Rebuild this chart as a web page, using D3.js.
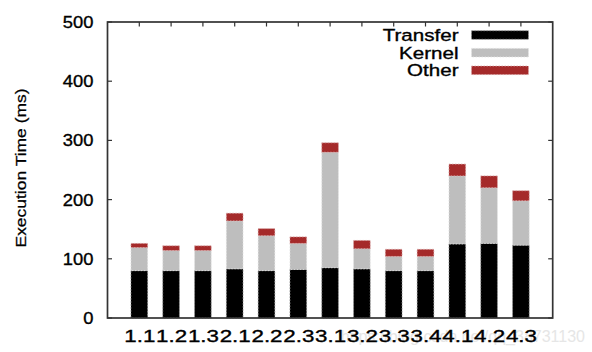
<!DOCTYPE html>
<html><head><meta charset="utf-8">
<script src="https://cdn.jsdelivr.net/npm/d3@7"></script>
<style>body{margin:0;background:#fff}svg{display:block}text{font-family:"Liberation Sans",Arial,sans-serif}
.t{fill:#000;stroke:#000;stroke-width:0.35px}</style>
</head><body>
<svg id="c" width="592" height="352"></svg>
<script>
const categories = ["1.1","1.2","1.3","2.1","2.2","2.3","3.1","3.2","3.3","3.4","4.1","4.2","4.3"];
const transfer = [80, 80, 80, 83, 80, 82, 85, 83, 80, 80, 125, 126, 123];
const kernel   = [39, 34, 34, 81, 59, 44, 195, 34, 24, 24, 115, 94, 75];
const other    = [7, 8, 8, 13, 12, 11, 16, 14, 12, 12, 20, 20, 17];
const seriesNames = ["Transfer","Kernel","Other"];
const seriesColors = ["#000000","#bebebe","#a52a2a"];
const yTicks = [0,100,200,300,400,500];

const svg = d3.select("#c");
const L = 107.5, R = 552.7, T = 22, B = 318;
const x = d3.scaleLinear().domain([-1, categories.length]).range([L, R]);
const y = d3.scaleLinear().domain([0, 500]).range([B, T]);
const step = x(1) - x(0);
const bw = step * 0.525;

// watermark
svg.append("text").attr("x", 585).attr("y", 341.5).attr("text-anchor","end")
  .attr("font-size", 16).attr("fill","#e6e6e6").text("https://blog.csdn.net/qq_38731130");

const rows = categories.map((c,i)=>({cat:c, i, Transfer:transfer[i], Kernel:kernel[i], Other:other[i]}));
const stack = d3.stack().keys(seriesNames)(rows);
const strokes = ["#9a9a9a", "#e4e4e4", "#d8a8a8"];

const g = svg.append("g");
stack.forEach((s, k) => {
  g.selectAll(null).data(s).enter().append("rect")
    .attr("x", d => x(d.data.i) - bw/2)
    .attr("width", bw)
    .attr("y", d => y(d[1]))
    .attr("height", d => y(d[0]) - y(d[1]))
    .attr("fill", seriesColors[k])
    .attr("stroke", strokes[k])
    .attr("stroke-width", 0.8)
    .attr("stroke-dasharray", "1.5,1.5");
});

// frame
const axisCol = "#333";
svg.append("rect").attr("x", L).attr("y", T).attr("width", R-L).attr("height", B-T)
  .attr("fill","none").attr("stroke", axisCol).attr("stroke-width", 1.7);

// y ticks (left and right, inward)
yTicks.forEach(v => {
  svg.append("line").attr("x1", L).attr("x2", L+4.5).attr("y1", y(v)).attr("y2", y(v)).attr("stroke", axisCol).attr("stroke-width",1.2);
  svg.append("line").attr("x1", R).attr("x2", R-4.5).attr("y1", y(v)).attr("y2", y(v)).attr("stroke", axisCol).attr("stroke-width",1.2);
  const tg = svg.append("g").attr("transform", `translate(93.5,${y(v)+6}) scale(1.08,1)`);
  tg.append("text").attr("class","t").attr("text-anchor","end").attr("font-size",17).text(v);
});

// x ticks (top inward) and labels
categories.forEach((c,i) => {
  svg.append("line").attr("x1", x(i)).attr("x2", x(i)).attr("y1", T).attr("y2", T+4.5).attr("stroke", axisCol).attr("stroke-width",1.2);
  const tg = svg.append("g").attr("transform", `translate(${x(i)+0.5},341.7) scale(1.33,1)`);
  tg.append("text").attr("class","t").attr("text-anchor","middle").attr("font-size",16.8).text(c);
});

// y axis title
const yt = svg.append("g").attr("transform", "translate(26,168) rotate(-90) scale(1.18,1)");
yt.append("text").attr("class","t").attr("style","stroke-width:0.25px").attr("text-anchor","middle").attr("font-size",14.8).text("Execution Time (ms)");

// legend
const legY = [35, 52.7, 70.3];
seriesNames.forEach((n,k) => {
  const lg = svg.append("g").attr("transform", `translate(458.5,${legY[k]+6}) scale(1.24,1)`);
  lg.append("text").attr("class","t").attr("text-anchor","end").attr("font-size",16.6).text(n);
  svg.append("rect").attr("x", 471.5).attr("y", legY[k]-4.3).attr("width", 57).attr("height", 8.6)
    .attr("fill", seriesColors[k])
    .attr("stroke", strokes[k]).attr("stroke-width",0.8).attr("stroke-dasharray","1.5,1.5");
});
</script>
</body></html>
